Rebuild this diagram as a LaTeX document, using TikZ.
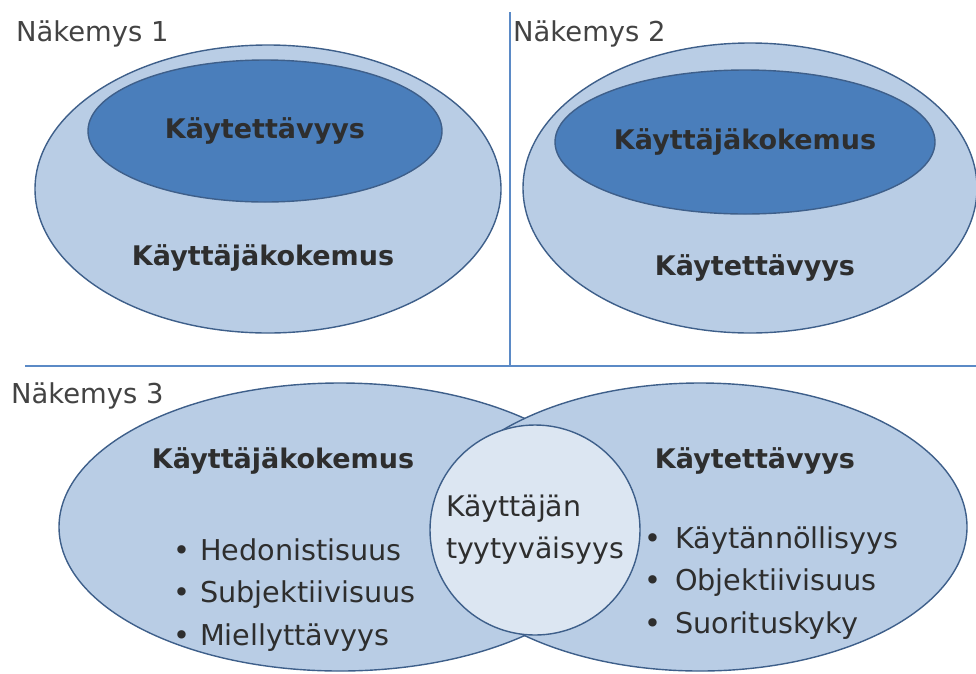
\documentclass[tikz,border=0pt]{standalone}
\usepackage{fontspec}
\setmainfont{DejaVu Sans}
\usepackage{xcolor}
\definecolor{nakpale}{HTML}{B9CDE5}
\definecolor{nakdark}{HTML}{4A7EBB}
\definecolor{naklight}{HTML}{DCE6F2}
\definecolor{nakedge}{HTML}{3E5F8A}
\definecolor{naksep}{HTML}{5B8AC6}
\definecolor{naktext}{HTML}{2E2E2E}
\usetikzlibrary{positioning,shapes.geometric}
\tikzset{
  nakouter/.style={ellipse,draw=nakedge,line width=1.4pt,fill=nakpale,inner sep=0pt},
  nakinner/.style={ellipse,draw=nakedge,line width=1.4pt,fill=nakdark,inner sep=0pt,text=naktext,font=\fontsize{27}{32}\selectfont\bfseries},
  nakmid/.style={circle,draw=nakedge,line width=1.4pt,fill=naklight,inner sep=0pt,minimum size=210pt,align=left,text=naktext,font=\fontsize{28.4}{42}\selectfont},
  nakhead/.style={inner sep=0pt,anchor=base,text=naktext,font=\fontsize{27}{32}\selectfont\bfseries},
  naktitle/.style={inner sep=0pt,anchor=base west,text=naktext!90,font=\fontsize{27.4}{32}\selectfont},
  nakitem/.style={inner sep=0pt,text height=20pt,text depth=6pt,text=naktext,font=\fontsize{28.7}{33}\selectfont},
  naksplit/.style={draw=naksep,line width=2pt},
}

\begin{document}
\begin{tikzpicture}[x=1pt,y=-1pt]
\useasboundingbox (0,0) rectangle (976,673);

% separators
\draw[naksplit] (510,12) -- (510,365);
\draw[naksplit] (25,366) -- (976,366);

% view 1
\node[naktitle] (t1) at (16,41) {Näkemys 1};
\node[nakouter,minimum width=466pt,minimum height=288pt] (o1) at (268,189) {};
\node[nakinner,minimum width=354pt,minimum height=142pt] (i1) at (265,131) {Käytettävyys};
\node[nakhead] (h1) at (263,265) {Käyttäjäkokemus};

% view 2
\node[naktitle] (t2) at (513,41) {Näkemys 2};
\node[nakouter,minimum width=454pt,minimum height=290pt] (o2) at (750,188) {};
\node[nakinner,minimum width=380pt,minimum height=144pt] (i2) at (745,142) {Käyttäjäkokemus};
\node[nakhead] (h2) at (755,275) {Käytettävyys};

% view 3
\node[naktitle] (t3) at (11,403) {Näkemys 3};
\node[nakouter,minimum width=562pt,minimum height=288pt] (ux) at (340,527) {};
\node[nakouter,minimum width=534pt,minimum height=288pt] (us) at (700,527) {};
\node[nakmid] (sat) at (535,530) {Käyttäjän\\tyytyväisyys};
\node[nakhead] (uxh) at (283,468) {Käyttäjäkokemus};
\node[nakhead] (ush) at (755,468) {Käytettävyys};

\node[nakitem,anchor=base west] (ux1) at (173,560) {•\hspace{10pt}Hedonistisuus};
\node[nakitem,below=16.5pt of ux1.south west,anchor=north west] (ux2) {•\hspace{10pt}Subjektiivisuus};
\node[nakitem,below=16.5pt of ux2.south west,anchor=north west] (ux3) {•\hspace{10pt}Miellyttävyys};

\node[nakitem,anchor=base west] (us1) at (644,548) {•\hspace{14pt}Käytännöllisyys};
\node[nakitem,below=16.5pt of us1.south west,anchor=north west] (us2) {•\hspace{14pt}Objektiivisuus};
\node[nakitem,below=16.5pt of us2.south west,anchor=north west] (us3) {•\hspace{14pt}Suorituskyky};
\end{tikzpicture}
\end{document}
